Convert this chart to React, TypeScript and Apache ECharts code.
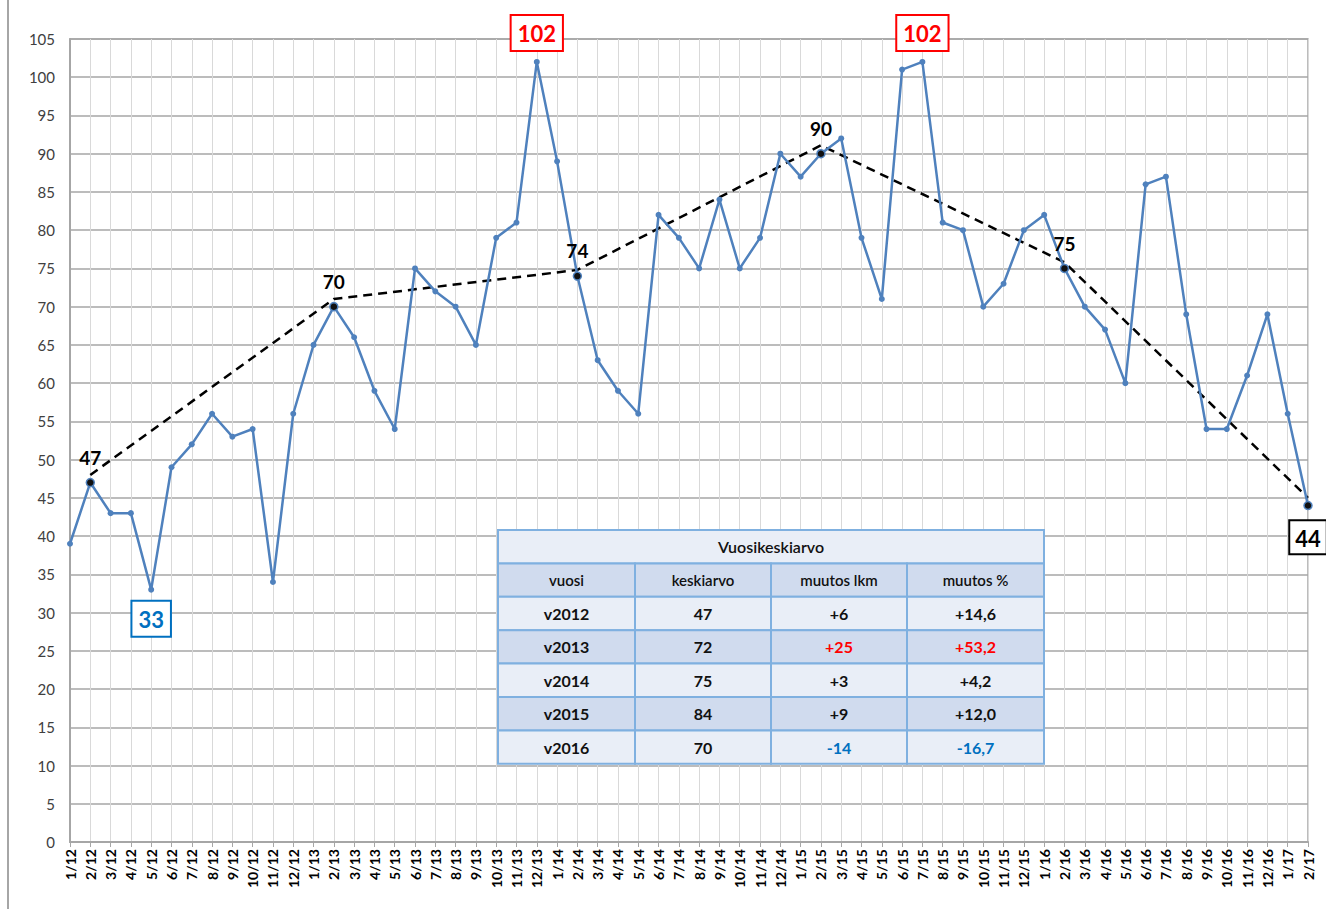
import React, { useEffect, useRef } from "react";
import * as echarts from "echarts";

const categories = [
  "1/12", "2/12", "3/12", "4/12", "5/12", "6/12", "7/12", "8/12", "9/12", "10/12", "11/12", "12/12",
  "1/13", "2/13", "3/13", "4/13", "5/13", "6/13", "7/13", "8/13", "9/13", "10/13", "11/13", "12/13",
  "1/14", "2/14", "3/14", "4/14", "5/14", "6/14", "7/14", "8/14", "9/14", "10/14", "11/14", "12/14",
  "1/15", "2/15", "3/15", "4/15", "5/15", "6/15", "7/15", "8/15", "9/15", "10/15", "11/15", "12/15",
  "1/16", "2/16", "3/16", "4/16", "5/16", "6/16", "7/16", "8/16", "9/16", "10/16", "11/16", "12/16",
  "1/17", "2/17",
];

const monthlyValues = [
  39, 47, 43, 43, 33, 49, 52, 56, 53, 54, 34, 56,
  65, 70, 66, 59, 54, 75, 72, 70, 65, 79, 81, 102,
  89, 74, 63, 59, 56, 82, 79, 75, 84, 75, 79, 90,
  87, 90, 92, 79, 71, 101, 102, 81, 80, 70, 73, 80,
  82, 75, 70, 67, 60, 86, 87, 69, 54, 54, 61, 69,
  56, 44,
];

const trendCategories = ["2/12", "2/13", "2/14", "2/15", "2/16", "2/17"];
const trendValues = [48, 71, 74.8, 91.1, 75.8, 45];

const labelledMonths = ["2/12", "2/13", "2/14", "2/15", "2/16"];
const maxMonths = ["12/13", "7/15"];
const minMonths = ["5/12"];
const lastMonths = ["2/17"];

const yMin = 0;
const yMax = 105;
const yStep = 5;

const tableTitle = "Vuosikeskiarvo";
const tableHeaders = ["vuosi", "keskiarvo", "muutos lkm", "muutos %"];
const tableYears = ["v2012", "v2013", "v2014", "v2015", "v2016"];
const tableAverages = ["47", "72", "75", "84", "70"];
const tableChangeCount = ["+6", "+25", "+3", "+9", "-14"];
const tableChangePct = ["+14,6", "+53,2", "+4,2", "+12,0", "-16,7"];

const FONT = "Lato, 'Open Sans', 'DejaVu Sans', sans-serif";
const BLUE = "#4F81BD";
const RED = "#FF0000";
const DARKBLUE = "#0070C0";

function changeColor(s: string) {
  if (s.startsWith("-")) return DARKBLUE;
  const n = parseFloat(s.replace(",", "."));
  if (n >= 20) return RED;
  return "#111";
}

function buildTable() {
  const left = 498;
  const top = 530;
  const colW = [137, 136, 136, 137];
  const rowH = 33.4;
  const total = colW.reduce((a, b) => a + b, 0);
  const light = "#E9EEF7";
  const dark = "#D0DBEE";
  const border = "#7FB0E0";
  const els: any[] = [];
  els.push({
    type: "rect",
    shape: { x: left, y: top, width: total, height: rowH },
    style: { fill: light, stroke: border, lineWidth: 2 },
    z: 100,
  });
  els.push({
    type: "text",
    x: left + total / 2,
    y: top + rowH / 2,
    style: { text: tableTitle, font: `600 16px ${FONT}`, fill: "#111", textAlign: "center", textVerticalAlign: "middle" },
    z: 101,
  });
  const rows: { cells: string[]; header: boolean }[] = [{ cells: tableHeaders, header: true }];
  tableYears.forEach((y, i) => {
    rows.push({ cells: [y, tableAverages[i], tableChangeCount[i], tableChangePct[i]], header: false });
  });
  rows.forEach((row, r) => {
    const y = top + rowH * (r + 1);
    const fill = r % 2 === 0 ? dark : light;
    let x = left;
    row.cells.forEach((c, ci) => {
      els.push({
        type: "rect",
        shape: { x, y, width: colW[ci], height: rowH },
        style: { fill, stroke: border, lineWidth: 2 },
        z: 100,
      });
      const color = !row.header && ci >= 2 ? changeColor(c) : "#111";
      els.push({
        type: "text",
        x: x + colW[ci] / 2,
        y: y + rowH / 2,
        style: {
          text: c,
          font: `${row.header ? 600 : "bold"} ${row.header ? 15 : 16}px ${FONT}`,
          fill: color,
          textAlign: "center",
          textVerticalAlign: "middle",
        },
        z: 101,
      });
      x += colW[ci];
    });
  });
  return els;
}

export default function App() {
  const ref = useRef<HTMLDivElement>(null);
  useEffect(() => {
    document.body.style.margin = "0";
    if (!ref.current) return;
    const chart = echarts.init(ref.current, undefined, { renderer: "svg" });

    const boxLabel = (color: string, position: string) => ({
      show: true,
      position,
      distance: 9,
      fontSize: 22,
      fontWeight: "bold",
      fontFamily: FONT,
      color,
      borderColor: color,
      borderWidth: 2,
      backgroundColor: "#fff",
      padding: [6, 6, 4, 6],
      lineHeight: 24,
    });

    const lineData = monthlyValues.map((v, i) => {
      const cat = categories[i];
      const item: any = { value: v };
      if (trendCategories.includes(cat)) {
        item.symbolSize = 8;
        item.itemStyle = { color: "#111", borderColor: BLUE, borderWidth: 1.5 };
      }
      if (labelledMonths.includes(cat)) {
        item.label = {
          show: true,
          position: "top",
          distance: 11,
          fontSize: 19,
          fontWeight: "bold",
          fontFamily: FONT,
          color: "#000",
        };
      }
      if (maxMonths.includes(cat)) item.label = boxLabel(RED, "top");
      if (minMonths.includes(cat)) item.label = boxLabel(DARKBLUE, "bottom");
      if (lastMonths.includes(cat)) item.label = { ...boxLabel("#000", "bottom"), distance: 11, padding: [5, 5, 3, 5], offset: [-2, 0] };
      return item;
    });

    const trendData = categories.map((c) => {
      const k = trendCategories.indexOf(c);
      return k >= 0 ? trendValues[k] : null;
    });

    chart.setOption({
      animation: false,
      backgroundColor: "#fff",
      grid: {
        left: 70,
        right: 18,
        top: 39,
        bottom: 67,
        show: true,
        borderColor: "#A6A6A6",
        borderWidth: 1.5,
        backgroundColor: "transparent",
      },
      xAxis: {
        type: "category",
        data: categories,
        boundaryGap: false,
        axisLine: { lineStyle: { color: "#A6A6A6", width: 2 } },
        axisTick: { show: true, length: 5, lineStyle: { color: "#A6A6A6" }, interval: 0 },
        axisLabel: {
          interval: 0,
          rotate: 90,
          fontSize: 14,
          fontWeight: "bold",
          fontFamily: FONT,
          color: "#000",
          margin: 7,
        },
        splitLine: { show: true, interval: 0, lineStyle: { color: "#D9D9D9", width: 1 } },
      },
      yAxis: {
        type: "value",
        min: yMin,
        max: yMax,
        interval: yStep,
        axisLine: { show: true, lineStyle: { color: "#A6A6A6", width: 2 } },
        axisTick: { show: false },
        axisLabel: { fontSize: 15, fontFamily: FONT, color: "#404040", margin: 15 },
        splitLine: { show: true, lineStyle: { color: "#A6A6A6", width: 1.5 } },
      },
      series: [
        {
          type: "line",
          data: trendData,
          connectNulls: true,
          symbol: "none",
          lineStyle: { color: "#000", width: 2.5, type: [9, 6] },
          z: 2,
          silent: true,
        },
        {
          type: "line",
          data: lineData,
          symbol: "circle",
          symbolSize: 6,
          itemStyle: { color: BLUE },
          lineStyle: { color: BLUE, width: 2.5 },
          z: 3,
          labelLayout: { hideOverlap: false },
        },
      ],
      graphic: [
        {
          type: "line",
          shape: { x1: 8, y1: 0, x2: 8, y2: 909 },
          style: { stroke: "#A6A6A6", lineWidth: 2 },
        },
        ...buildTable(),
      ],
    });
    return () => chart.dispose();
  }, []);
  return <div ref={ref} style={{ width: 1326, height: 909 }} />;
}
